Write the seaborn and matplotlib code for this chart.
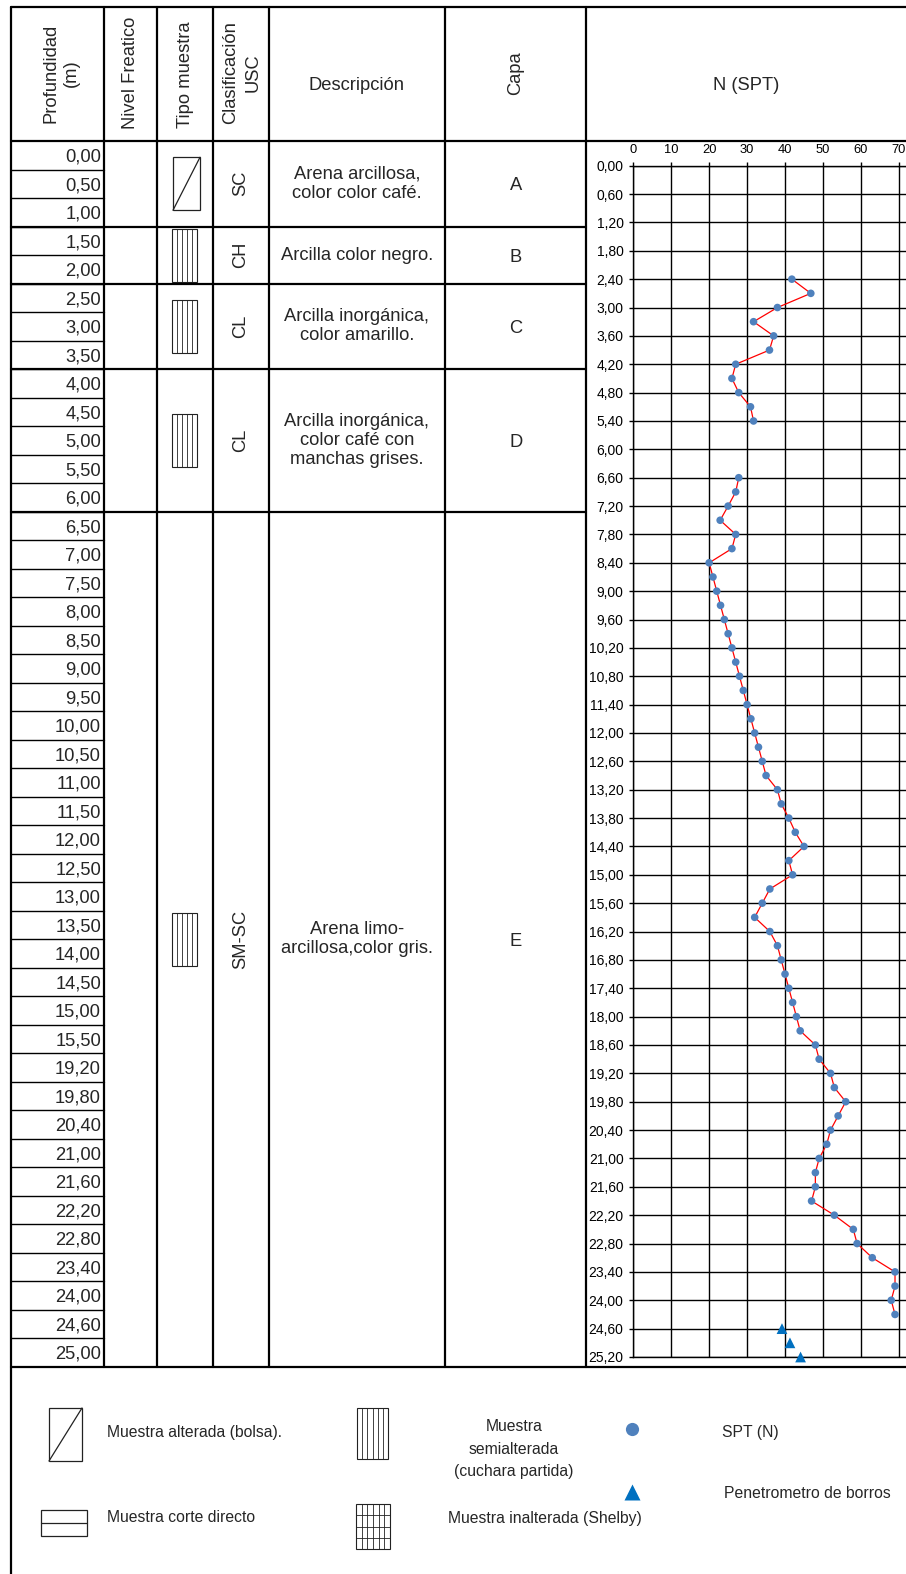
import numpy as np
import pandas as pd
import matplotlib
matplotlib.use("Agg")
import matplotlib.pyplot as plt
from matplotlib.ticker import FuncFormatter
import seaborn as sns

# --- datos del sondeo ---
profundidades = ["0,00", "0,50", "1,00", "1,50", "2,00", "2,50", "3,00", "3,50",
                 "4,00", "4,50", "5,00", "5,50", "6,00", "6,50", "7,00", "7,50",
                 "8,00", "8,50", "9,00", "9,50", "10,00", "10,50", "11,00", "11,50",
                 "12,00", "12,50", "13,00", "13,50", "14,00", "14,50", "15,00", "15,50",
                 "19,20", "19,80", "20,40", "21,00", "21,60", "22,20", "22,80", "23,40",
                 "24,00", "24,60", "25,00"]

capas = ["A", "B", "C", "D", "E"]
clasificacion = ["SC", "CH", "CL", "CL", "SM-SC"]
descripcion = ["Arena arcillosa,\ncolor color café.",
               "Arcilla color negro.",
               "Arcilla inorgánica,\ncolor amarillo.",
               "Arcilla inorgánica,\ncolor café con\nmanchas grises.",
               "Arena limo-\narcillosa,color gris."]
filas_capa = [3, 2, 3, 5, 30]
tipo_muestra = ["bolsa", "cuchara", "cuchara", "cuchara", "cuchara"]

# SPT (N) - dos tramos
prof_spt_1 = [2.4, 2.7, 3.0, 3.3, 3.6, 3.9, 4.2, 4.5, 4.8, 5.1, 5.4]
n_spt_1 = [41.8, 46.8, 38.0, 31.7, 37.0, 35.9, 27.0, 26.0, 27.8, 30.9, 31.7]

prof_spt_2 = [6.6, 6.9, 7.2, 7.5, 7.8, 8.1, 8.4, 8.7, 9.0, 9.3, 9.6, 9.9,
              10.2, 10.5, 10.8, 11.1, 11.4, 11.7, 12.0, 12.3, 12.6, 12.9,
              13.2, 13.5, 13.8, 14.1, 14.4, 14.7, 15.0, 15.3, 15.6, 15.9,
              16.2, 16.5, 16.8, 17.1, 17.4, 17.7, 18.0, 18.3, 18.6, 18.9,
              19.2, 19.5, 19.8, 20.1, 20.4, 20.7, 21.0, 21.3, 21.6, 21.9,
              22.2, 22.5, 22.8, 23.1, 23.4, 23.7, 24.0, 24.3]
n_spt_2 = [27.8, 27.0, 25.0, 22.9, 27.0, 26.0, 20, 21, 22, 23, 24, 25,
           26, 27, 28, 29, 30, 31, 32, 33, 34, 35,
           38, 39, 41, 42.7, 45, 41, 42, 36, 34, 32,
           36, 38, 39, 40, 41, 42, 43, 44, 48, 49,
           52, 53, 56, 54, 52, 51, 49, 48, 48, 47,
           53, 58, 59, 63, 69, 69, 68, 69]

# penetrometro de borros
prof_pen = [24.6, 24.9, 25.2]
n_pen = [39.2, 41.3, 44.1]

W, H = 906, 1574
sns.set_style("white")
plt.rcParams['font.family'] = ['Liberation Sans', 'DejaVu Sans']

fig = plt.figure(figsize=(W / 100, H / 100), dpi=100)
ax0 = fig.add_axes([0, 0, 1, 1])
ax0.set_xlim(0, W)
ax0.set_ylim(H, 0)
ax0.axis("off")

LW_MAJOR = 1.6
LW_MINOR = 1.0
FS = 13.2

# geometria de la tabla
x_left = 11
cols = [104, 157, 212.5, 269, 445, 586]
y_top, y_head = 7, 141
row_h = 28.5
y_bot = y_head + row_h * len(profundidades)

# bordes
ax0.plot([x_left, W], [y_top, y_top], color="black", lw=LW_MAJOR)
ax0.plot([x_left, W], [y_head, y_head], color="black", lw=LW_MAJOR)
ax0.plot([x_left, W], [y_bot, y_bot], color="black", lw=LW_MAJOR)
ax0.plot([x_left, x_left], [y_top, H], color="black", lw=LW_MAJOR)
for c in cols:
    ax0.plot([c, c], [y_top, y_bot], color="black", lw=LW_MAJOR)

# encabezados
hdr = dict(fontsize=FS, ha="center", va="center", multialignment="center")
ax0.text(61, 73, "Profundidad\n(m)", rotation=90, linespacing=1.25, **hdr)
ax0.text(130.5, 73, "Nivel Freatico", rotation=90, **hdr)
ax0.text(185, 75, "Tipo muestra", rotation=90, **hdr)
ax0.text(242, 73, "Clasificación\nUSC", rotation=90, linespacing=1.45, **hdr)
ax0.text(357, 85, "Descripción", **hdr)
ax0.text(516, 73, "Capa", rotation=90, **hdr)
ax0.text(746, 85, "N (SPT)", **hdr)

# filas de profundidad
for i, p in enumerate(profundidades):
    ya = y_head + i * row_h
    ax0.text(101, ya + row_h / 2 + 2, p, fontsize=FS, ha="right", va="center")
    if i > 0:
        ax0.plot([x_left, cols[0]], [ya, ya], color="black", lw=LW_MINOR)


def simbolo_cuchara(axx, xc, yc, w, h, n):
    x1, y1 = xc - w / 2, yc - h / 2
    axx.add_patch(plt.Rectangle((x1, y1), w, h, fill=False, ec="#222222", lw=0.8))
    for k in range(1, n):
        xx = x1 + k * w / n
        axx.plot([xx, xx], [y1, y1 + h], color="#222222", lw=0.6)


def simbolo_bolsa(axx, xc, yc, w, h):
    x1, y1 = xc - w / 2, yc - h / 2
    axx.add_patch(plt.Rectangle((x1, y1), w, h, fill=False, ec="#222222", lw=0.9))
    axx.plot([x1, x1 + w], [y1 + h, y1], color="#222222", lw=0.9)


# capas
fila = 0
for capa, usc, desc, nf, tm in zip(capas, clasificacion, descripcion, filas_capa, tipo_muestra):
    ya = y_head + fila * row_h
    yb = ya + nf * row_h
    yc = (ya + yb) / 2
    if fila > 0:
        ax0.plot([x_left, cols[-1]], [ya, ya], color="black", lw=LW_MAJOR)
    if tm == "bolsa":
        simbolo_bolsa(ax0, 186.5, yc, 27, 53)
    else:
        simbolo_cuchara(ax0, 184.5, yc, 24.5, 53, 5)
    ax0.text(241, yc, usc, rotation=90, fontsize=FS, ha="center", va="center")
    ax0.text(357, yc, desc, fontsize=FS, ha="center", va="center",
             multialignment="center", linespacing=1.17)
    ax0.text(516, yc + 2, capa, fontsize=FS, ha="center", va="center")
    fila += nf

# leyenda
FSL = 11.3
simbolo_bolsa(ax0, 65.5, 1434.5, 33, 53)
ax0.text(107, 1432, "Muestra alterada (bolsa).", fontsize=FSL, va="center")

ax0.add_patch(plt.Rectangle((41, 1510), 46, 26, fill=False, ec="#222222", lw=0.9))
ax0.plot([41, 87], [1523, 1523], color="#222222", lw=0.9)
ax0.text(107, 1518, "Muestra corte directo", fontsize=FSL, va="center")

simbolo_cuchara(ax0, 372.5, 1433.5, 31, 51, 6)
ax0.text(514, 1449, "Muestra\nsemialterada\n(cuchara partida)", fontsize=FSL,
         ha="center", va="center", multialignment="center", linespacing=1.6)

x1s, y1s, ws, hs = 356, 1504, 34, 45
ax0.add_patch(plt.Rectangle((x1s, y1s), ws, hs, fill=False, ec="#222222", lw=0.8))
for k in range(1, 6):
    ax0.plot([x1s + k * ws / 6] * 2, [y1s, y1s + hs], color="#222222", lw=0.6)
for k in range(1, 4):
    ax0.plot([x1s, x1s + ws], [y1s + k * hs / 4] * 2, color="#222222", lw=0.6)
ax0.text(448, 1519, "Muestra inalterada (Shelby)", fontsize=FSL, va="center")

ax0.plot([632], [1429], marker="o", ms=9.5, color="#4F81BD", mec="none")
ax0.text(722, 1432, "SPT (N)", fontsize=FSL, va="center")
ax0.plot([632], [1492], marker="^", ms=12, color="#0070C0", mec="none")
ax0.text(724, 1493, "Penetrometro de borros", fontsize=FSL, va="center")

# --- grafico N (SPT) ---
px0, py0, py1 = 633.3, 165.7, 1357.0
ax = fig.add_axes([px0 / W, 1 - py1 / H, (W - px0) / W, (py1 - py0) / H])
ax.set_facecolor("white")

tramo1 = pd.DataFrame({"N": n_spt_1, "prof": prof_spt_1})
tramo2 = pd.DataFrame({"N": n_spt_2, "prof": prof_spt_2})
penet = pd.DataFrame({"N": n_pen, "prof": prof_pen})

for d in (tramo1, tramo2):
    sns.lineplot(data=d, x="N", y="prof", sort=False, estimator=None,
                 color="red", lw=0.9, ax=ax, zorder=3)
    sns.scatterplot(data=d, x="N", y="prof", color="#4F81BD", s=30,
                    edgecolor="none", ax=ax, zorder=4, legend=False)
sns.scatterplot(data=penet, x="N", y="prof", marker="^", color="#0070C0", s=60,
                edgecolor="none", ax=ax, zorder=4, legend=False, clip_on=False)

ax.set_xlim(0, (W - px0) / 3.793)
ax.set_ylim(25.2, 0)
ax.set_xticks(np.arange(0, 71, 10))
ax.set_yticks(np.round(np.arange(0, 25.21, 0.6), 2))
ax.yaxis.set_major_formatter(FuncFormatter(lambda v, p: f"{v:.2f}".replace(".", ",")))
ax.xaxis.tick_top()
ax.set_xlabel("")
ax.set_ylabel("")
ax.grid(True, color="black", lw=1.0)
ax.set_axisbelow(True)
for s in ["left", "top", "bottom"]:
    ax.spines[s].set_visible(True)
    ax.spines[s].set_color("black")
    ax.spines[s].set_linewidth(1.0)
ax.spines["right"].set_visible(False)
ax.tick_params(axis="y", direction="out", length=3, width=1, labelsize=10, pad=4,
               left=True, colors="black")
ax.tick_params(axis="x", direction="out", length=3, width=1, labelsize=9.3, pad=4,
               top=True, bottom=False, colors="black")

fig.savefig("out.png", dpi=100)
